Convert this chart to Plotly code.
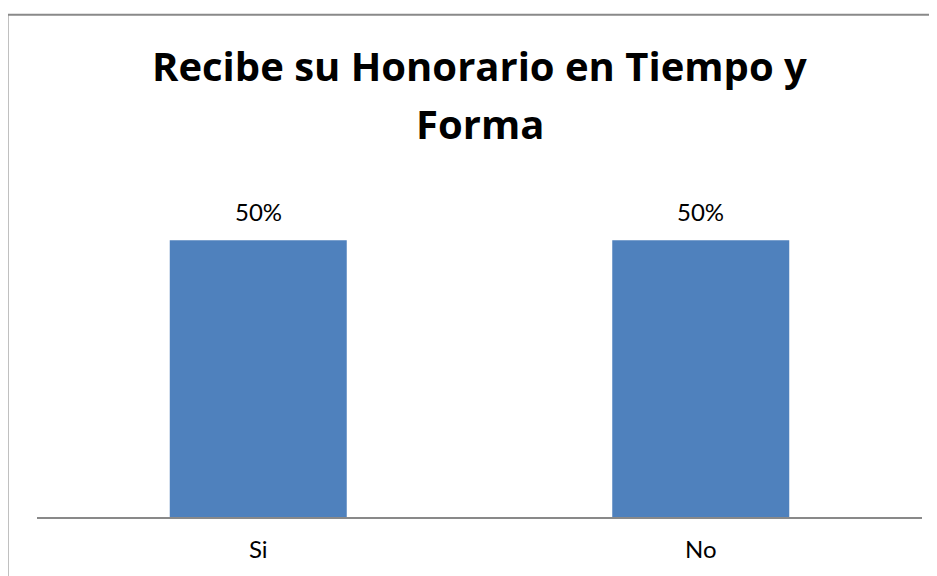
import plotly.graph_objects as go

categories = ["Si", "No"]
shares = [0.5, 0.5]
title_lines = ["Recibe su Honorario en Tiempo y", "Forma"]

BAR_COLOR = "#4F81BD"
LINE_COLOR = "#898989"
FONT = "Lato, Carlito, Calibri, sans-serif"
TITLE_FONT = "Open Sans, Carlito, Calibri, sans-serif"

fig = go.Figure(
    go.Bar(
        x=categories,
        y=shares,
        marker=dict(color=BAR_COLOR, line=dict(width=0)),
        width=0.4,
    )
)

# value labels above the bars (annotations so the gap can be set)
for cat, val in zip(categories, shares):
    fig.add_annotation(
        x=cat, y=val,
        text=f"{val:.0%}",
        xanchor="center", yanchor="bottom",
        yshift=12,
        showarrow=False,
        font=dict(size=24, color="#000000", family=FONT),
    )

# two title lines placed separately to get the wide line spacing
for text, ypos in zip(title_lines, [1.36, 1.184]):
    fig.add_annotation(
        text=f"<b>{text}</b>",
        xref="paper", yref="paper",
        x=0.5, y=ypos,
        xanchor="center", yanchor="middle",
        showarrow=False,
        font=dict(size=40, color="#000000", family=TITLE_FONT),
    )

# outer chart border
fig.add_shape(
    type="rect",
    xref="paper", yref="paper",
    x0=-0.0333, x1=1.1, y0=-0.4, y1=1.513,
    line=dict(color=LINE_COLOR, width=2),
    layer="below",
)

fig.update_xaxes(
    showline=True,
    linecolor=LINE_COLOR,
    linewidth=2,
    showgrid=False,
    ticks="",
    ticklabelstandoff=10,
    tickfont=dict(size=24, color="#000000", family=FONT),
)
fig.update_yaxes(
    range=[0, 0.6],
    visible=False,
    showgrid=False,
    zeroline=False,
)

fig.update_layout(
    width=937,
    height=576,
    margin=dict(l=29, r=23, t=177, b=67),
    plot_bgcolor="#FFFFFF",
    paper_bgcolor="#FFFFFF",
    showlegend=False,
    font=dict(family=FONT),
)

fig.write_html("out.html")
